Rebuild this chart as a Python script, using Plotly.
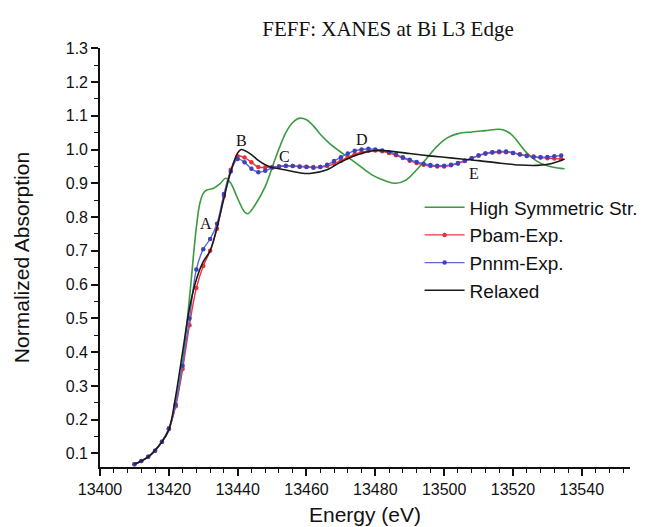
import plotly.graph_objects as go

# ---------------- data ----------------
# Energy grid (eV) for the experimental-structure series (markers every 2 eV)
exp_energy = list(range(13410, 13536, 2))

pnnm_exp = [0.068, 0.078, 0.090, 0.108, 0.135, 0.175, 0.245, 0.360, 0.500, 0.645,
            0.705, 0.735, 0.780, 0.868, 0.935, 0.972, 0.962, 0.943, 0.933, 0.937,
            0.946, 0.950, 0.952, 0.951, 0.949, 0.948, 0.946, 0.948, 0.955, 0.966,
            0.977, 0.988, 0.996, 1.000, 1.002, 1.000, 0.997, 0.992, 0.985, 0.977,
            0.970, 0.963, 0.958, 0.954, 0.952, 0.952, 0.955, 0.960, 0.967, 0.974,
            0.982, 0.988, 0.992, 0.994, 0.994, 0.990, 0.985, 0.981, 0.978, 0.977,
            0.978, 0.980, 0.982]

pbam_exp = [0.068, 0.078, 0.090, 0.108, 0.135, 0.172, 0.240, 0.350, 0.480, 0.590,
            0.655, 0.700, 0.765, 0.862, 0.940, 0.980, 0.976, 0.962, 0.948, 0.947,
            0.948, 0.950, 0.951, 0.951, 0.950, 0.949, 0.948, 0.948, 0.951, 0.958,
            0.967, 0.977, 0.986, 0.992, 0.996, 0.997, 0.995, 0.990, 0.983, 0.975,
            0.967, 0.960, 0.955, 0.951, 0.950, 0.950, 0.953, 0.958, 0.966, 0.974,
            0.982, 0.988, 0.991, 0.992, 0.992, 0.990, 0.986, 0.982, 0.979, 0.976,
            0.974, 0.973, 0.972]

relaxed_energy = [13410, 13414, 13418, 13420, 13422, 13424, 13426, 13428, 13430, 13432,
                  13434, 13436, 13438, 13440, 13441, 13442, 13444, 13446, 13448, 13450,
                  13452, 13455, 13458, 13461, 13466, 13470, 13475, 13480, 13486, 13490,
                  13495, 13500, 13505, 13510, 13515, 13522, 13527, 13531, 13535]
relaxed = [0.068, 0.090, 0.135, 0.170, 0.270, 0.400, 0.530, 0.615, 0.668, 0.700,
           0.770, 0.855, 0.935, 0.990, 1.000, 0.997, 0.985, 0.968, 0.955, 0.947,
           0.943, 0.937, 0.931, 0.929, 0.940, 0.963, 0.985, 0.997, 0.993, 0.988,
           0.982, 0.977, 0.972, 0.967, 0.961, 0.954, 0.953, 0.958, 0.972]

high_sym_energy = [13410, 13414, 13418, 13420, 13422, 13424, 13426, 13428, 13429, 13430,
                   13431, 13433, 13435, 13436.5, 13438, 13440, 13442, 13443, 13445, 13448,
                   13451, 13454, 13456, 13458, 13460, 13462, 13464, 13467, 13471, 13475,
                   13479, 13483, 13486, 13489, 13492, 13495, 13498, 13501, 13504, 13508,
                   13512, 13516, 13518, 13520, 13522, 13524, 13527, 13530, 13533, 13535]
high_sym = [0.068, 0.090, 0.135, 0.170, 0.250, 0.370, 0.560, 0.770, 0.840, 0.870,
            0.880, 0.885, 0.900, 0.915, 0.900, 0.855, 0.815, 0.810, 0.835, 0.890,
            0.975, 1.050, 1.080, 1.093, 1.088, 1.070, 1.045, 1.015, 0.985, 0.955,
            0.925, 0.907, 0.900, 0.910, 0.940, 0.975, 1.010, 1.035, 1.047, 1.052,
            1.056, 1.060, 1.055, 1.040, 1.015, 0.990, 0.965, 0.952, 0.945, 0.943]

peak_labels = ["A", "B", "C", "D", "E"]
peak_energy = [13430.8, 13441.2, 13453.7, 13476.2, 13508.6]
peak_value = [0.782, 1.028, 0.979, 1.031, 0.928]

x_ticks = [13400, 13420, 13440, 13460, 13480, 13500, 13520, 13540]
y_ticks = [0.1, 0.2, 0.3, 0.4, 0.5, 0.6, 0.7, 0.8, 0.9, 1.0, 1.1, 1.2, 1.3]

# ---------------- figure ----------------
SANS = "Liberation Sans, Arial, sans-serif"
SERIF = "Liberation Serif, Times New Roman, serif"

fig = go.Figure()
fig.add_trace(go.Scatter(x=high_sym_energy, y=high_sym, mode="lines",
                         name="High Symmetric Str.",
                         line=dict(color="#3a9a3e", width=1.6, shape="spline")))
fig.add_trace(go.Scatter(x=exp_energy, y=pbam_exp, mode="lines+markers",
                         name="Pbam-Exp.",
                         line=dict(color="#f0343c", width=1.4, shape="spline"),
                         marker=dict(color="#e8303a", size=4.5)))
fig.add_trace(go.Scatter(x=exp_energy, y=pnnm_exp, mode="lines+markers",
                         name="Pnnm-Exp.",
                         line=dict(color="#5a68d8", width=1.4, shape="spline"),
                         marker=dict(color="#3a44b8", size=4.5)))
fig.add_trace(go.Scatter(x=relaxed_energy, y=relaxed, mode="lines",
                         name="Relaxed",
                         line=dict(color="#1a1a1a", width=1.6, shape="spline")))

for lab, ex, vy in zip(peak_labels, peak_energy, peak_value):
    fig.add_annotation(x=ex, y=vy, text=lab, showarrow=False,
                       font=dict(family=SERIF, size=16, color="#111"))

fig.update_layout(
    width=651, height=527,
    margin=dict(l=92, r=29, t=40, b=63),
    paper_bgcolor="white", plot_bgcolor="white",
    title=dict(text="FEFF: XANES at Bi L3 Edge", x=380/651, xanchor="center",
               y=1 - 21/527, yanchor="middle",
               font=dict(family=SERIF, size=21, color="#111")),
    showlegend=True,
    legend=dict(x=0.603, y=0.665, xanchor="left", yanchor="top",
                bgcolor="rgba(0,0,0,0)", borderwidth=0,
                font=dict(family=SANS, size=19, color="#111"),
                tracegroupgap=0, itemwidth=40),
    font=dict(family=SANS, color="#111"),
)

fig.update_xaxes(range=[13400, 13554], tickvals=x_ticks, tickformat="d",
                 showgrid=False, zeroline=False,
                 showline=True, linecolor="#111", linewidth=1.6,
                 ticks="outside", ticklen=7, tickwidth=1.6, tickcolor="#111",
                 tickfont=dict(family=SANS, size=16, color="#111"),
                 minor=dict(dtick=4, tick0=13400, ticks="outside", ticklen=4,
                            tickwidth=1.4, tickcolor="#111", showgrid=False),
                 title=dict(text="Energy (eV)", standoff=10,
                            font=dict(family=SANS, size=21, color="#111")))
fig.update_yaxes(range=[0.06, 1.3005], tickvals=y_ticks, tickformat=".1f",
                 showgrid=False, zeroline=False,
                 showline=True, linecolor="#111", linewidth=1.6,
                 ticks="outside", ticklen=7, tickwidth=1.6, tickcolor="#111",
                 tickfont=dict(family=SANS, size=16, color="#111"),
                 minor=dict(dtick=0.05, tick0=0.05, ticks="outside", ticklen=4,
                            tickwidth=1.4, tickcolor="#111", showgrid=False),
                 title=dict(text="Normalized Absorption", standoff=30,
                            font=dict(family=SANS, size=21, color="#111")))

fig.write_html("out.html")
